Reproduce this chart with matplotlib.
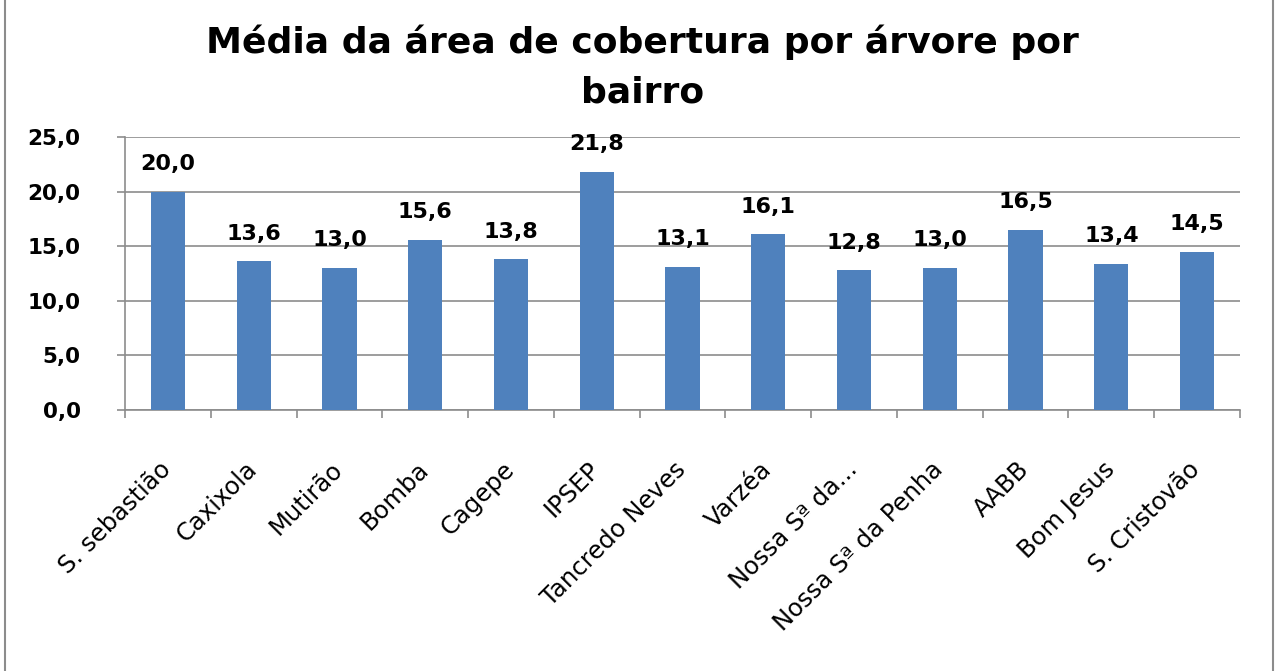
import matplotlib
matplotlib.use("Agg")
import matplotlib.pyplot as plt
from matplotlib.patches import Rectangle
from matplotlib.ticker import FuncFormatter, MultipleLocator
from matplotlib.transforms import ScaledTranslation

plt.rcParams['font.family'] = ['DejaVu Sans']

categories = ["S. sebastião", "Caxixola", "Mutirão", "Bomba", "Cagepe", "IPSEP",
              "Tancredo Neves", "Varzéa", "Nossa Sª da...", "Nossa Sª da Penha",
              "AABB", "Bom Jesus", "S. Cristovão"]
values = [20.0, 13.6, 13.0, 15.6, 13.8, 21.8, 13.1, 16.1, 12.8, 13.0, 16.5, 13.4, 14.5]
title = "Média da área de cobertura por árvore por\nbairro"

fig = plt.figure(figsize=(12.77, 6.71), dpi=100)
ax = fig.add_axes([0.098, 0.389, 0.873, 0.407])

x = list(range(len(categories)))
ax.bar(x, values, width=0.40, color="#4F81BD", zorder=3)

for xi, v in zip(x, values):
    ax.text(xi, v + 1.6, f"{v:.1f}".replace(".", ","), ha="center", va="bottom",
            fontsize=16, fontweight="bold", color="black")

ax.set_xlim(-0.5, len(categories) - 0.5)
ax.set_ylim(0, 25)
ax.yaxis.set_major_locator(MultipleLocator(5))
ax.yaxis.set_major_formatter(FuncFormatter(lambda v, p: f"{v:.1f}".replace(".", ",")))
ax.grid(axis="y", color="#8c8c8c", linewidth=1.2, zorder=0)
ax.set_xticks(x)
ax.set_xticklabels(categories, rotation=45, ha="right", va="top",
                   rotation_mode="anchor", fontsize=17.5)
ax.set_xticks([i - 0.5 for i in range(len(categories) + 1)], minor=True)
ax.tick_params(axis="x", which="major", length=0, pad=34)
ax.tick_params(axis="x", which="minor", length=6, color="#8c8c8c", width=1.2)
ax.tick_params(axis="y", length=6, color="#8c8c8c", width=1.2, labelsize=15.5, pad=26)
for lab in ax.get_yticklabels():
    lab.set_fontweight("bold")
offset = ScaledTranslation(-9 / 100, 0, fig.dpi_scale_trans)
for lab in ax.get_xticklabels():
    lab.set_transform(lab.get_transform() + offset)

for s in ["top", "right"]:
    ax.spines[s].set_visible(False)
for s in ["left", "bottom"]:
    ax.spines[s].set_color("#8c8c8c")
    ax.spines[s].set_linewidth(1.2)

fig.text(0.503, 0.900, title, ha="center", va="center", fontsize=26,
         fontweight="bold", linespacing=1.6)

fig.patches.append(Rectangle((0.004, -0.01), 0.993, 1.02, transform=fig.transFigure,
                             fill=False, edgecolor="#8c8c8c", linewidth=1.5))

fig.savefig("out.png", dpi=100)
